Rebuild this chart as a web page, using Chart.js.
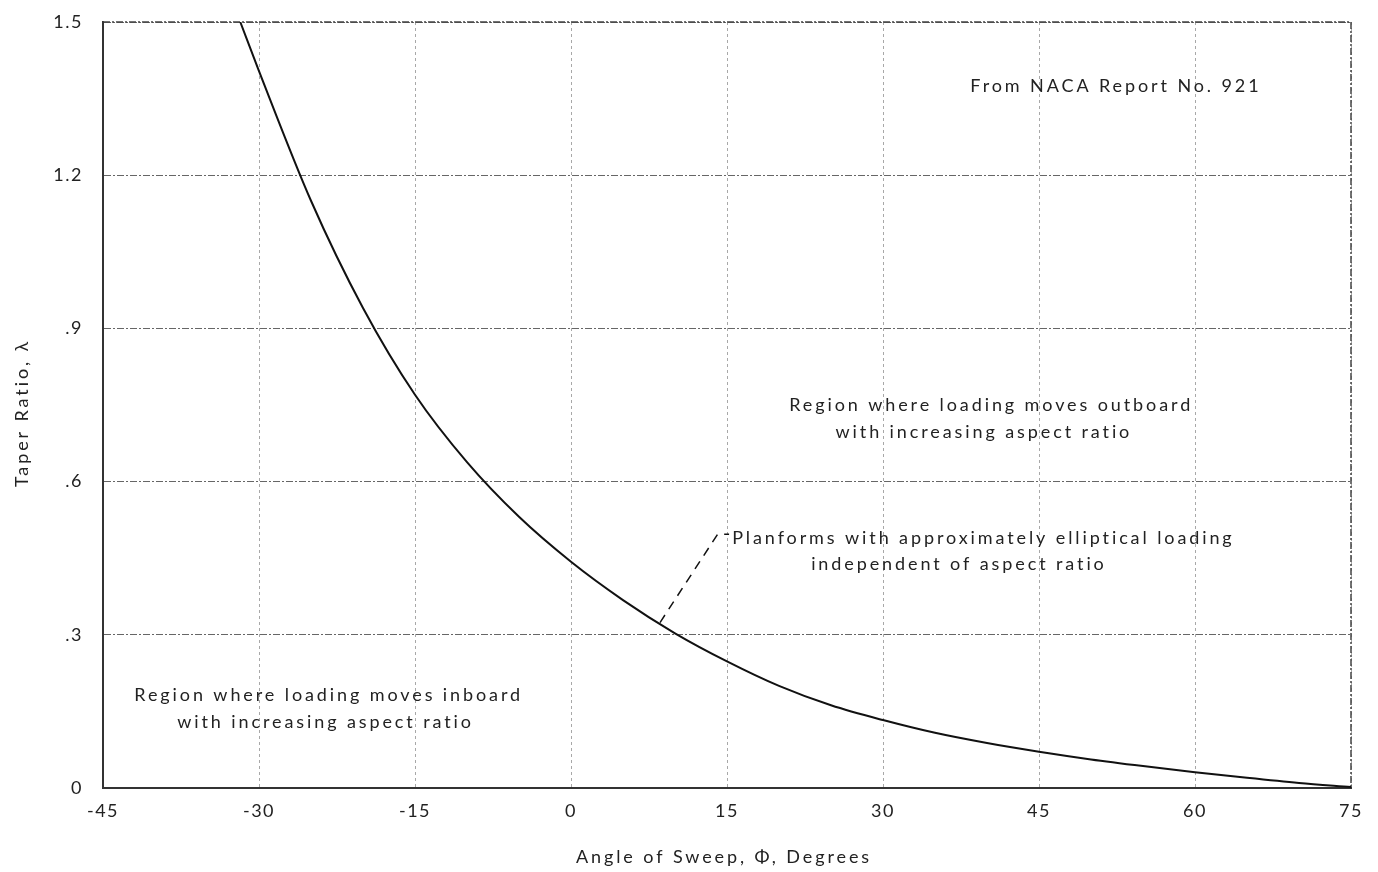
<!DOCTYPE html>
<html>
<head>
<meta charset="utf-8">
<script src="https://cdn.jsdelivr.net/npm/chart.js@4.4.1/dist/chart.umd.min.js"></script>
<style>
  html, body { margin: 0; padding: 0; background: #ffffff; }
  #wrap { width: 1378px; height: 872px; position: relative; }
</style>
</head>
<body>
<div id="wrap"><canvas id="c" width="1378" height="872"></canvas></div>
<script>
// ---- Data ----
const sweepDeg = [-31.8, -30, -25, -20, -15, -10, -5, 0, 5, 10, 15, 20, 25, 30, 35, 40, 45, 50, 55, 60, 65, 70, 75];
const taperRatio = [1.5, 1.404, 1.150, 0.940, 0.770, 0.638, 0.531, 0.443, 0.368, 0.303, 0.248, 0.200, 0.162, 0.133, 0.108, 0.088, 0.071, 0.056, 0.043, 0.031, 0.020, 0.010, 0.002];

const leaderDeg = [8.56, 14.1, 15.2];
const leaderVal = [0.324, 0.497, 0.497];

const xTickValues = [-45, -30, -15, 0, 15, 30, 45, 60, 75];
const xTickLabels = ['-45', '-30', '-15', '0', '15', '30', '45', '60', '75'];
const yTickValues = [0, 0.3, 0.6, 0.9, 1.2, 1.5];
const yTickLabels = ['0', '.3', '.6', '.9', '1.2', '1.5'];

const xTitle = 'Angle of Sweep, \u03A6, Degrees';
const yTitle = 'Taper Ratio, \u03BB';

const noteTexts = [
  'From NACA Report No. 921',
  'Region where loading moves outboard',
  'with increasing aspect ratio',
  'Planforms with approximately elliptical loading',
  'independent of aspect ratio',
  'Region where loading moves inboard',
  'with increasing aspect ratio'
];
// note anchors in data coordinates (deg, value) and alignment
const noteDeg = [38.4, 40.4, 39.7, 15.5, 37.3, -23.3, -23.6];
const noteVal = [1.374, 0.750, 0.697, 0.490, 0.439, 0.182, 0.129];
const noteAlign = ['left', 'center', 'center', 'left', 'center', 'center', 'center'];

// ---- Chart ----
const FONT = 'Lato, "DejaVu Sans", sans-serif';
const INK = '#222222';
const SPACING = '2.9px';

const curve = sweepDeg.map((x, i) => ({ x: x, y: taperRatio[i] }));
const leader = leaderDeg.map((x, i) => ({ x: x, y: leaderVal[i] }));

const textPlugin = {
  id: 'textPlugin',
  beforeDraw(chart) {
    chart.ctx.letterSpacing = '1.5px';
  },
  afterDraw(chart) {
    const ctx = chart.ctx;
    const xs = chart.scales.x, ys = chart.scales.y;
    ctx.save();
    ctx.letterSpacing = SPACING;
    ctx.fillStyle = INK;
    ctx.font = '18px ' + FONT;
    ctx.textBaseline = 'middle';
    noteTexts.forEach((t, i) => {
      ctx.textAlign = noteAlign[i];
      ctx.fillText(t, xs.getPixelForValue(noteDeg[i]), ys.getPixelForValue(noteVal[i]));
    });
    // axis titles
    ctx.textAlign = 'center';
    ctx.fillText(xTitle, 724, 857);
    ctx.translate(22, 413);
    ctx.rotate(-Math.PI / 2);
    ctx.fillText(yTitle, 0, 0);
    ctx.restore();
  }
};

new Chart(document.getElementById('c'), {
  type: 'line',
  data: {
    datasets: [
      {
        data: curve,
        borderColor: '#111111',
        borderWidth: 2,
        pointRadius: 0,
        cubicInterpolationMode: 'monotone',
        fill: false
      },
      {
        data: leader,
        borderColor: '#111111',
        borderWidth: 1.5,
        borderDash: [9, 7],
        pointRadius: 0,
        tension: 0,
        fill: false
      }
    ]
  },
  options: {
    responsive: false,
    animation: false,
    devicePixelRatio: 1,
    layout: { padding: { top: 22, right: 27, bottom: 0, left: 0 } },
    plugins: { legend: { display: false }, tooltip: { enabled: false } },
    scales: {
      x: {
        type: 'linear',
        min: -45, max: 75,
        afterFit(s) { s.height = 84; s.paddingLeft = 0; s.paddingRight = 0; },
        afterBuildTicks(s) { s.ticks = xTickValues.map(v => ({ value: v })); },
        ticks: {
          color: INK,
          font: { family: FONT, size: 18 },
          padding: 12,
          maxRotation: 0,
          callback: (v) => { const i = xTickValues.indexOf(v); return i >= 0 ? xTickLabels[i] : ''; }
        },
        grid: { color: '#a8a8a8', lineWidth: 1, drawTicks: false },
        border: { display: true, color: '#333333', width: 2, dash: [3, 3] }
      },
      y: {
        type: 'linear',
        min: 0, max: 1.5,
        afterFit(s) { s.width = 103; s.paddingTop = 0; s.paddingBottom = 0; },
        afterBuildTicks(s) { s.ticks = yTickValues.map(v => ({ value: v })); },
        ticks: {
          color: INK,
          font: { family: FONT, size: 18 },
          padding: 20,
          callback: (v) => { const i = yTickValues.findIndex(t => Math.abs(t - v) < 1e-9); return i >= 0 ? yTickLabels[i] : ''; }
        },
        grid: { color: '#666666', lineWidth: 1, drawTicks: false },
        border: { display: true, color: '#333333', width: 2, dash: [7, 2, 2, 2] }
      }
    }
  },
  plugins: [textPlugin, {
    id: 'frame',
    beforeDatasetsDraw(chart) {
      const { ctx, chartArea: a } = chart;
      ctx.save();
      ctx.strokeStyle = '#444444';
      ctx.lineWidth = 1.5;
      ctx.setLineDash([7, 2, 2, 2]);
      ctx.beginPath();
      ctx.moveTo(a.left, a.top); ctx.lineTo(a.right, a.top); ctx.lineTo(a.right, a.bottom);
      ctx.stroke();
      ctx.setLineDash([]);
      ctx.strokeStyle = '#333333';
      ctx.lineWidth = 2;
      ctx.beginPath();
      ctx.moveTo(a.left, a.top); ctx.lineTo(a.left, a.bottom); ctx.lineTo(a.right, a.bottom);
      ctx.stroke();
      ctx.restore();
    }
  }]
});
</script>
</body>
</html>
